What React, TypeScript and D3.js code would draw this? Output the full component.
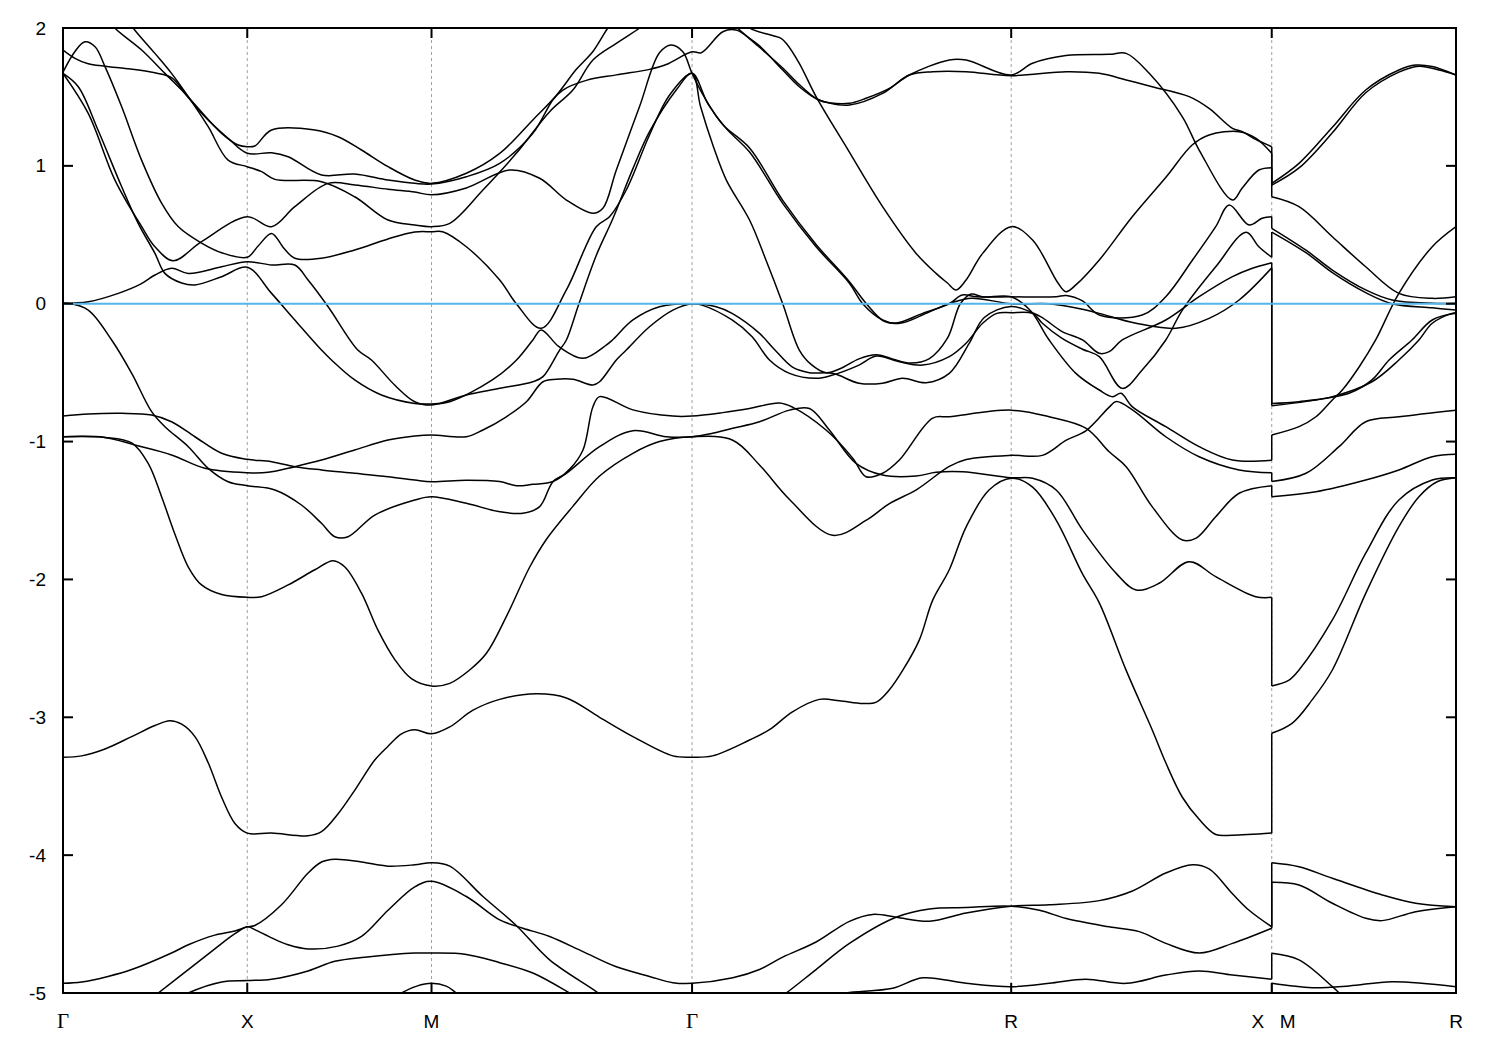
import React from "react";
import * as d3 from "d3";

type Pt = [number, number];

// high-symmetry positions along the k-path (units of Γ–X length)
const symmetryK = [0, 1, 2, 3.414, 5.146, 6.56, 7.56];
const symmetryLabels = ["Γ", "X", "M", "Γ", "R", "X", "R"];
const breakLabel = "M";
const energyTicks = [2, 1, 0, -1, -2, -3, -4, -5];
const kMax = 7.56;
const eMin = -5;
const eMax = 2;
const fermiLevel = 0;

// ---- bands on Γ–X–M–Γ–R–X ----
const bandB1: Pt[] = [[0,-4.93],[0.101,-4.92],[0.244,-4.88],[0.373,-4.83],[0.589,-4.71],[0.68,-4.65],[0.824,-4.58],[0.933,-4.55],[1.0,-4.52],[1.041,-4.51],[1.186,-4.36],[1.33,-4.13],[1.403,-4.05],[1.475,-4.03],[1.62,-4.05],[1.764,-4.08],[1.909,-4.07],[2.0,-4.055],[2.099,-4.08],[2.279,-4.3],[2.46,-4.51],[2.641,-4.76],[2.894,-4.99],[2.94,-5.04]];
const bandB2: Pt[] = [[0.47,-5.05],[0.517,-5.0],[0.68,-4.83],[0.824,-4.68],[0.933,-4.57],[1.0,-4.52],[1.041,-4.54],[1.132,-4.6],[1.222,-4.65],[1.33,-4.68],[1.493,-4.66],[1.62,-4.59],[1.764,-4.4],[1.909,-4.23],[2.0,-4.19],[2.189,-4.3],[2.37,-4.47],[2.496,-4.53],[2.641,-4.59],[2.822,-4.7],[3.003,-4.81],[3.183,-4.88],[3.31,-4.925],[3.414,-4.93],[3.635,-4.89],[3.78,-4.83],[3.906,-4.74],[4.087,-4.63],[4.268,-4.48],[4.394,-4.43],[4.521,-4.45],[4.702,-4.48],[4.901,-4.42],[5.146,-4.37],[5.352,-4.36],[5.624,-4.33],[5.804,-4.26],[5.985,-4.13],[6.13,-4.07],[6.22,-4.1],[6.347,-4.28],[6.437,-4.4],[6.56,-4.52]];
const bandB3: Pt[] = [[0.64,-5.03],[0.68,-5.0],[0.861,-4.92],[1.0,-4.91],[1.132,-4.9],[1.33,-4.84],[1.475,-4.77],[1.638,-4.74],[1.909,-4.71],[2.0,-4.71],[2.189,-4.72],[2.37,-4.78],[2.55,-4.855],[2.75,-5.0],[2.79,-5.03]];
const bandB4: Pt[] = [[1.8,-5.03],[1.837,-5.0],[1.92,-4.95],[2.0,-4.93],[2.08,-4.95],[2.135,-5.0],[2.17,-5.03]];
const bandB5: Pt[] = [[3.89,-5.03],[3.925,-5.0],[4.087,-4.83],[4.268,-4.64],[4.521,-4.45],[4.702,-4.39],[4.901,-4.38],[5.146,-4.37],[5.3,-4.4],[5.445,-4.46],[5.678,-4.52],[5.841,-4.555],[5.985,-4.64],[6.166,-4.71],[6.347,-4.64],[6.56,-4.53]];
const bandB6: Pt[] = [[4.15,-5.03],[4.25,-5.0],[4.503,-4.966],[4.665,-4.89],[4.901,-4.93],[5.146,-4.954],[5.352,-4.93],[5.55,-4.9],[5.77,-4.93],[5.985,-4.87],[6.166,-4.84],[6.347,-4.87],[6.56,-4.9]];
const bandB7: Pt[] = [[0,-3.29],[0.101,-3.28],[0.228,-3.23],[0.373,-3.14],[0.499,-3.06],[0.58,-3.025],[0.644,-3.05],[0.716,-3.14],[0.788,-3.33],[0.861,-3.58],[0.933,-3.77],[1.0,-3.84],[1.132,-3.84],[1.33,-3.86],[1.403,-3.83],[1.493,-3.7],[1.583,-3.53],[1.692,-3.31],[1.764,-3.21],[1.837,-3.12],[1.909,-3.09],[2.0,-3.12],[2.099,-3.07],[2.223,-2.95],[2.37,-2.87],[2.569,-2.83],[2.732,-2.86],[2.912,-3.0],[3.093,-3.14],[3.31,-3.28],[3.414,-3.29],[3.525,-3.28],[3.726,-3.165],[3.834,-3.09],[3.959,-2.96],[4.105,-2.87],[4.214,-2.88],[4.34,-2.9],[4.414,-2.89],[4.485,-2.8],[4.557,-2.66],[4.647,-2.44],[4.72,-2.15],[4.81,-1.93],[4.901,-1.62],[5.027,-1.35],[5.146,-1.266],[5.262,-1.33],[5.39,-1.57],[5.533,-1.96],[5.624,-2.17],[5.77,-2.66],[5.911,-3.09],[5.985,-3.33],[6.075,-3.58],[6.166,-3.74],[6.256,-3.85],[6.347,-3.855],[6.56,-3.84]];
const bandB8: Pt[] = [[0,-0.965],[0.228,-0.97],[0.373,-1.01],[0.463,-1.16],[0.535,-1.4],[0.607,-1.67],[0.68,-1.91],[0.752,-2.04],[0.861,-2.11],[1.0,-2.13],[1.078,-2.125],[1.222,-2.04],[1.367,-1.93],[1.466,-1.864],[1.53,-1.91],[1.62,-2.1],[1.71,-2.37],[1.8,-2.58],[1.891,-2.72],[2.0,-2.773],[2.099,-2.754],[2.207,-2.657],[2.298,-2.536],[2.406,-2.27],[2.533,-1.91],[2.623,-1.71],[2.767,-1.47],[2.912,-1.25],[3.093,-1.085],[3.237,-1.0],[3.414,-0.965],[3.635,-0.99],[3.78,-1.17],[3.943,-1.42],[4.177,-1.68],[4.36,-1.57],[4.485,-1.45],[4.631,-1.35],[4.81,-1.18],[4.902,-1.13],[5.146,-1.1],[5.315,-1.1],[5.445,-0.99],[5.553,-0.92],[5.678,-0.75],[5.716,-0.71],[5.804,-0.77],[5.985,-0.965],[6.166,-1.11],[6.383,-1.206],[6.56,-1.226]];
const bandB9: Pt[] = [[0,-0.815],[0.137,-0.8],[0.318,-0.795],[0.481,-0.807],[0.589,-0.856],[0.716,-0.965],[0.861,-1.085],[1.0,-1.129],[1.132,-1.146],[1.258,-1.182],[1.403,-1.206],[1.583,-1.23],[1.764,-1.255],[1.909,-1.279],[2.0,-1.291],[2.189,-1.28],[2.37,-1.29],[2.46,-1.32],[2.55,-1.31],[2.659,-1.29],[2.75,-1.2],[2.822,-1.061],[2.876,-0.748],[2.912,-0.674],[3.093,-0.77],[3.31,-0.815],[3.414,-0.815],[3.58,-0.79],[3.726,-0.76],[3.888,-0.72],[3.959,-0.75],[4.141,-0.916],[4.286,-1.12],[4.358,-1.255],[4.448,-1.23],[4.539,-1.134],[4.72,-0.83],[4.81,-0.82],[5.146,-0.772],[5.352,-0.82],[5.553,-0.904],[5.678,-1.074],[5.77,-1.182],[5.911,-1.472],[6.075,-1.714],[6.15,-1.7],[6.256,-1.545],[6.383,-1.375],[6.56,-1.32]];
const bandB10: Pt[] = [[0,-0.965],[0.228,-0.97],[0.39,-1.025],[0.589,-1.097],[0.77,-1.194],[1.0,-1.226],[1.113,-1.223],[1.258,-1.182],[1.403,-1.134],[1.583,-1.061],[1.764,-0.989],[1.909,-0.96],[2.0,-0.952],[2.189,-0.965],[2.279,-0.916],[2.406,-0.82],[2.515,-0.711],[2.605,-0.566],[2.677,-0.548],[2.767,-0.548],[2.876,-0.59],[2.912,-0.566],[3.003,-0.408],[3.057,-0.336],[3.183,-0.167],[3.31,-0.046],[3.414,0.0],[3.468,-0.01],[3.631,-0.118],[3.74,-0.239],[3.834,-0.408],[3.943,-0.505],[4.087,-0.541],[4.177,-0.517],[4.32,-0.445],[4.414,-0.38],[4.539,-0.421],[4.665,-0.445],[4.81,-0.384],[4.901,-0.287],[4.991,-0.142],[5.068,-0.07],[5.146,-0.065],[5.262,-0.07],[5.315,-0.142],[5.42,-0.25],[5.533,-0.33],[5.624,-0.384],[5.749,-0.614],[5.857,-0.481],[5.985,-0.263],[6.075,-0.046],[6.256,0.268],[6.421,0.518],[6.49,0.413],[6.56,0.337]];
const bandB12: Pt[] = [[0,0.003],[0.029,0.003],[0.137,-0.046],[0.264,-0.263],[0.373,-0.505],[0.481,-0.783],[0.553,-0.892],[0.68,-1.037],[0.788,-1.194],[0.896,-1.291],[1.0,-1.32],[1.15,-1.351],[1.294,-1.46],[1.403,-1.593],[1.475,-1.69],[1.547,-1.69],[1.692,-1.533],[1.909,-1.424],[2.0,-1.4],[2.189,-1.448],[2.37,-1.509],[2.496,-1.52],[2.587,-1.472],[2.659,-1.291],[2.732,-1.23],[2.912,-1.037],[3.093,-0.921],[3.274,-0.965],[3.414,-0.965],[3.525,-0.94],[3.635,-0.904],[3.78,-0.856],[3.943,-0.772],[4.051,-0.76],[4.159,-0.916],[4.304,-1.158],[4.448,-1.243],[4.63,-1.25],[4.738,-1.223],[4.882,-1.219],[5.146,-1.262],[5.262,-1.266],[5.39,-1.351],[5.533,-1.641],[5.716,-1.956],[5.824,-2.077],[5.949,-2.028],[6.112,-1.871],[6.256,-1.98],[6.473,-2.125],[6.56,-2.13]];
const bandC1: Pt[] = [[0,0.003],[0.137,0.014],[0.3,0.075],[0.418,0.14],[0.499,0.208],[0.589,0.257],[0.68,0.22],[0.861,0.268],[1.0,0.305],[1.132,0.281],[1.258,0.281],[1.33,0.172],[1.439,-0.022],[1.6,-0.336],[1.674,-0.408],[1.8,-0.59],[1.909,-0.711],[2.0,-0.735],[2.189,-0.662],[2.37,-0.614],[2.55,-0.566],[2.605,-0.529],[2.695,-0.336],[2.732,-0.263],[2.8,0.0],[2.894,0.35],[2.985,0.62],[3.093,0.98],[3.184,1.25],[3.328,1.55],[3.414,1.671],[3.5,1.45],[3.6,1.27],[3.726,1.1],[3.906,0.728],[4.087,0.413],[4.268,0.148],[4.34,0.0],[4.448,-0.118],[4.521,-0.14],[4.665,-0.07],[4.81,0.0],[4.88,0.063],[4.96,0.05],[5.146,0.05],[5.262,0.049],[5.39,0.051],[5.445,0.06],[5.533,0.02],[5.624,-0.082],[5.857,-0.082],[5.985,0.051],[6.13,0.317],[6.256,0.559],[6.329,0.716],[6.437,0.571],[6.508,0.62],[6.56,0.631]];
const bandC2: Pt[] = [[0,1.671],[0.083,1.574],[0.19,1.26],[0.318,0.85],[0.408,0.583],[0.499,0.365],[0.553,0.22],[0.644,0.15],[0.716,0.136],[0.861,0.196],[1.0,0.264],[1.132,0.075],[1.258,-0.118],[1.403,-0.336],[1.457,-0.408],[1.583,-0.553],[1.728,-0.662],[1.909,-0.723],[2.0,-0.727],[2.099,-0.711],[2.33,-0.553],[2.46,-0.41],[2.55,-0.263],[2.595,-0.19],[2.692,-0.312],[2.822,-0.396],[2.948,-0.3],[2.982,-0.263],[3.093,-0.118],[3.237,-0.022],[3.414,0.0],[3.545,-0.022],[3.631,-0.07],[3.78,-0.215],[3.86,-0.33],[3.959,-0.46],[4.05,-0.5],[4.177,-0.505],[4.32,-0.577],[4.448,-0.577],[4.557,-0.541],[4.684,-0.573],[4.81,-0.505],[4.918,-0.287],[5.0,-0.1],[5.146,-0.02],[5.3,-0.09],[5.42,-0.2],[5.533,-0.263],[5.624,-0.36],[5.678,-0.348],[5.749,-0.263],[5.985,-0.118],[6.166,0.051],[6.347,0.196],[6.455,0.257],[6.56,0.297]];
const bandC3: Pt[] = [[0,1.671],[0.137,1.381],[0.282,0.897],[0.427,0.559],[0.499,0.413],[0.598,0.312],[0.752,0.45],[1.0,0.631],[1.132,0.559],[1.258,0.704],[1.439,0.873],[1.583,0.862],[1.764,0.83],[1.909,0.81],[2.0,0.79],[2.189,0.84],[2.424,0.97],[2.587,0.91],[2.732,0.752],[2.876,0.656],[2.93,0.692],[3.003,0.97],[3.129,1.43],[3.237,1.82],[3.301,1.877],[3.364,1.828],[3.414,1.671],[3.48,1.5],[3.58,1.3],[3.726,1.13],[3.906,0.75],[4.087,0.43],[4.268,0.16],[4.36,0.0],[4.46,-0.13],[4.55,-0.14],[4.7,-0.06],[4.83,0.01],[4.93,0.04],[5.146,0.0],[5.352,0.0],[5.533,-0.04],[5.624,-0.07],[5.824,-0.142],[6.041,-0.178],[6.22,-0.106],[6.383,0.027],[6.56,0.26]];
const bandC4: Pt[] = [[0,1.68],[0.065,1.83],[0.119,1.9],[0.174,1.864],[0.228,1.72],[0.318,1.43],[0.427,1.04],[0.535,0.73],[0.625,0.56],[0.752,0.44],[0.861,0.37],[1.0,0.337],[1.06,0.42],[1.132,0.51],[1.2,0.4],[1.258,0.33],[1.403,0.33],[1.583,0.39],[1.764,0.47],[1.909,0.52],[2.0,0.522],[2.06,0.522],[2.189,0.413],[2.37,0.172],[2.46,0.0],[2.595,-0.178],[2.732,0.1],[2.894,0.559],[2.966,0.631],[3.057,0.825],[3.183,1.224],[3.292,1.514],[3.414,1.671],[3.46,1.43],[3.53,1.139],[3.6,0.897],[3.726,0.607],[3.815,0.317],[3.906,0.0],[3.996,-0.336],[4.06,-0.44],[4.141,-0.5],[4.22,-0.47],[4.32,-0.4],[4.414,-0.37],[4.5,-0.4],[4.6,-0.43],[4.7,-0.4],[4.8,-0.25],[4.87,0.0],[4.93,0.07],[4.99,0.05],[5.146,0.05],[5.25,-0.05],[5.352,-0.263],[5.497,-0.505],[5.624,-0.626],[5.696,-0.674],[5.742,-0.65],[5.804,-0.748],[5.985,-0.892],[6.166,-1.037],[6.347,-1.134],[6.56,-1.135]];
const bandU1: Pt[] = [[0,1.84],[0.065,1.78],[0.137,1.74],[0.318,1.71],[0.499,1.675],[0.589,1.64],[0.68,1.5],[0.861,1.236],[0.951,1.151],[1.0,1.139],[1.041,1.144],[1.132,1.26],[1.367,1.26],[1.493,1.211],[1.62,1.115],[1.764,0.994],[1.909,0.897],[2.0,0.873],[2.189,0.946],[2.37,1.09],[2.55,1.333],[2.677,1.51],[2.786,1.7],[2.876,1.83],[2.957,2.0],[2.99,2.05]];
const bandU2: Pt[] = [[0.26,2.05],[0.282,2.0],[0.427,1.84],[0.553,1.671],[0.644,1.55],[0.77,1.356],[0.896,1.2],[1.0,1.091],[1.132,1.095],[1.222,1.066],[1.403,0.934],[1.583,0.941],[1.764,0.897],[1.909,0.873],[2.0,0.868],[2.189,0.921],[2.37,1.018],[2.55,1.236],[2.659,1.48],[2.713,1.55],[2.84,1.62],[3.003,1.66],[3.183,1.7],[3.274,1.735],[3.414,1.828],[3.464,1.821],[3.581,1.973],[3.653,1.985],[3.726,1.925],[3.78,1.87],[3.906,1.695],[3.996,1.574],[4.1,1.478],[4.159,1.458],[4.268,1.454],[4.358,1.49],[4.485,1.562],[4.593,1.659],[4.81,1.768],[4.901,1.768],[5.146,1.659],[5.262,1.744],[5.443,1.8],[5.678,1.809],[5.77,1.816],[5.895,1.671],[6.075,1.356],[6.166,1.115],[6.347,0.752],[6.4,0.84],[6.49,0.97],[6.56,0.987]];
const bandU3: Pt[] = [[0.36,2.05],[0.381,2.0],[0.499,1.816],[0.589,1.671],[0.68,1.502],[0.788,1.284],[0.896,1.042],[1.0,0.994],[1.078,0.958],[1.15,0.902],[1.403,0.885],[1.583,0.776],[1.764,0.607],[1.909,0.571],[2.0,0.559],[2.099,0.583],[2.279,0.825],[2.46,1.091],[2.641,1.393],[2.767,1.55],[2.876,1.768],[3.003,1.889],[3.129,2.0],[3.16,2.04]];
const bandT1: Pt[] = [[3.7,2.05],[3.726,2.0],[3.85,1.945],[3.897,1.925],[3.925,1.89],[3.996,1.744],[4.087,1.502],[4.25,1.139],[4.448,0.704],[4.63,0.365],[4.738,0.22],[4.8,0.15],[4.847,0.1],[4.9,0.17],[4.991,0.365],[5.146,0.559],[5.262,0.462],[5.4,0.15],[5.443,0.087],[5.5,0.14],[5.624,0.317],[5.803,0.631],[5.988,0.921],[6.128,1.151],[6.22,1.224],[6.383,1.248],[6.475,1.2],[6.56,1.091]];
const bandT3: Pt[] = [[3.62,2.05],[3.66,2.0],[3.78,1.86],[3.906,1.71],[3.996,1.59],[4.087,1.49],[4.159,1.455],[4.268,1.441],[4.448,1.526],[4.593,1.659],[4.72,1.683],[4.901,1.683],[5.146,1.654],[5.445,1.683],[5.624,1.671],[5.77,1.623],[5.911,1.574],[6.112,1.502],[6.22,1.417],[6.347,1.272],[6.4,1.248],[6.475,1.19],[6.56,1.139]];

// ---- bands on M–R ----
const bandMR1: Pt[] = [[6.56,0.873],[6.708,1.018],[6.889,1.28],[7.07,1.55],[7.25,1.695],[7.341,1.731],[7.431,1.72],[7.56,1.659]];
const bandMR2: Pt[] = [[6.56,0.86],[6.708,0.985],[6.889,1.24],[7.07,1.53],[7.25,1.68],[7.359,1.723],[7.468,1.695],[7.56,1.659]];
const bandMR3: Pt[] = [[6.56,0.776],[6.708,0.704],[6.889,0.486],[7.07,0.268],[7.25,0.075],[7.431,0.039],[7.56,0.051]];
const bandMR4: Pt[] = [[6.56,0.547],[6.746,0.388],[6.889,0.244],[7.07,0.1],[7.213,0.027],[7.431,0.003],[7.56,0.003]];
const bandMR5: Pt[] = [[6.56,0.52],[6.746,0.37],[6.889,0.225],[7.07,0.08],[7.213,0.0],[7.431,-0.03],[7.56,-0.046]];
const bandMR6: Pt[] = [[6.56,-0.952],[6.708,-0.892],[6.8,-0.82],[6.889,-0.698],[6.943,-0.626],[7.035,-0.457],[7.124,-0.263],[7.25,0.075],[7.431,0.413],[7.56,0.559]];
const bandMR7: Pt[] = [[6.56,-0.723],[6.708,-0.711],[6.98,-0.65],[7.104,-0.553],[7.197,-0.408],[7.321,-0.263],[7.431,-0.118],[7.56,-0.07]];
const bandMR8: Pt[] = [[6.56,-0.74],[6.889,-0.674],[7.104,-0.566],[7.25,-0.408],[7.359,-0.263],[7.431,-0.142],[7.538,-0.07],[7.56,-0.065]];
const bandMR9: Pt[] = [[6.56,-1.29],[6.746,-1.23],[6.925,-1.037],[7.07,-0.856],[7.25,-0.82],[7.56,-0.772]];
const bandMR10: Pt[] = [[6.56,-1.4],[6.8,-1.364],[7.07,-1.279],[7.25,-1.206],[7.431,-1.11],[7.56,-1.092]];
const bandMR11: Pt[] = [[6.56,-2.773],[6.654,-2.73],[6.708,-2.657],[6.889,-2.294],[7.07,-1.81],[7.25,-1.424],[7.431,-1.279],[7.56,-1.262]];
const bandMR12: Pt[] = [[6.56,-3.116],[6.67,-3.044],[6.779,-2.874],[6.889,-2.657],[7.07,-2.101],[7.25,-1.617],[7.359,-1.4],[7.46,-1.29],[7.56,-1.262]];
const bandMR13: Pt[] = [[6.56,-4.055],[6.708,-4.084],[6.889,-4.168],[7.16,-4.289],[7.341,-4.349],[7.56,-4.374]];
const bandMR14: Pt[] = [[6.56,-4.197],[6.708,-4.217],[6.889,-4.349],[7.07,-4.458],[7.16,-4.475],[7.341,-4.41],[7.56,-4.374]];
const bandMR15: Pt[] = [[6.56,-4.712],[6.708,-4.76],[6.889,-4.954],[6.925,-4.998],[6.95,-5.03]];
const bandMR16: Pt[] = [[6.56,-4.93],[6.779,-4.962],[6.98,-4.949],[7.213,-4.918],[7.56,-4.954]];

const leftBands: Pt[][] = [bandB1, bandB2, bandB3, bandB4, bandB5, bandB6, bandB7, bandB8, bandB9, bandB10, bandB12, bandC1, bandC2, bandC3, bandC4, bandU1, bandU2, bandU3, bandT1, bandT3];
const rightBands: Pt[][] = [bandMR1, bandMR2, bandMR3, bandMR4, bandMR5, bandMR6, bandMR7, bandMR8, bandMR9, bandMR10, bandMR11, bandMR12, bandMR13, bandMR14, bandMR15, bandMR16];

const breakK = 6.56;

export default function App() {
  const W = 1500;
  const H = 1050;
  const x = d3.scaleLinear().domain([0, kMax]).range([63, 1456]);
  const y = d3.scaleLinear().domain([eMin, eMax]).range([993, 28]);
  const line = d3
    .line<Pt>()
    .x((d) => x(d[0]))
    .y((d) => y(d[1]))
    .curve(d3.curveCatmullRom.alpha(0.5));

  // vertical jumps at the X|M discontinuity: pair band ends by energy rank
  const leftEnds = leftBands
    .filter((b) => Math.abs(b[b.length - 1][0] - breakK) < 1e-6)
    .map((b) => b[b.length - 1][1])
    .sort((a, b) => b - a);
  const rightStarts = rightBands
    .filter((b) => Math.abs(b[0][0] - breakK) < 1e-6)
    .map((b) => b[0][1])
    .sort((a, b) => b - a);
  const jumps: [number, number][] = rightStarts.map((r, i) => [
    i < leftEnds.length ? leftEnds[i] : eMin - 0.2,
    r,
  ]);

  const [x0, x1] = x.range();
  const [yb, yt] = y.range();
  const sans = "'Liberation Sans', Arial, Helvetica, sans-serif";
  const serif = "'Liberation Serif', 'DejaVu Serif', serif";

  return (
    <svg
      width={W}
      height={H}
      viewBox={`0 0 ${W} ${H}`}
      style={{ position: "absolute", left: 0, top: 0, background: "#fff" }}
    >
      <defs>
        <clipPath id="plotClip">
          <rect x={x0} y={yt} width={x1 - x0} height={yb - yt} />
        </clipPath>
      </defs>
      <rect x={0} y={0} width={W} height={H} fill="#fff" />
      {symmetryK.slice(1, -1).map((k, i) => (
        <line
          key={"g" + i}
          x1={x(k)}
          x2={x(k)}
          y1={yt}
          y2={yb}
          stroke="#a0a0a0"
          strokeWidth={1}
          strokeDasharray="3,3"
        />
      ))}
      <g clipPath="url(#plotClip)">
        {[...leftBands, ...rightBands].map((b, i) => (
          <path key={"b" + i} d={line(b) || ""} fill="none" stroke="#000" strokeWidth={1.5} />
        ))}
        {jumps.map(([a, b], i) => (
          <line
            key={"j" + i}
            x1={x(breakK)}
            x2={x(breakK)}
            y1={y(a)}
            y2={y(b)}
            stroke="#000"
            strokeWidth={1.5}
          />
        ))}
        <line
          x1={x0}
          x2={x1}
          y1={y(fermiLevel)}
          y2={y(fermiLevel)}
          stroke="#56b4e9"
          strokeWidth={2}
        />
      </g>
      {energyTicks.map((e) => (
        <g key={"yt" + e}>
          <line x1={x0} x2={x0 + 10} y1={y(e)} y2={y(e)} stroke="#000" strokeWidth={2} />
          <line x1={x1 - 10} x2={x1} y1={y(e)} y2={y(e)} stroke="#000" strokeWidth={2} />
          <text
            x={46}
            y={y(e)}
            textAnchor="end"
            dominantBaseline="central"
            fontFamily={sans}
            fontSize={19}
          >
            {e}
          </text>
        </g>
      ))}
      {symmetryK.map((k, i) => (
        <g key={"xt" + i}>
          <line x1={x(k)} x2={x(k)} y1={yb} y2={yb - 10} stroke="#000" strokeWidth={2} />
          <line x1={x(k)} x2={x(k)} y1={yt} y2={yt + 10} stroke="#000" strokeWidth={2} />
        </g>
      ))}
      {symmetryLabels.map((lab, i) => {
        const k = symmetryK[i];
        const isBreak = Math.abs(k - breakK) < 1e-6;
        return (
          <text
            key={"xl" + i}
            x={x(k) + (isBreak ? -14 : 0)}
            y={1021}
            textAnchor="middle"
            dominantBaseline="central"
            fontFamily={lab === "Γ" ? serif : sans}
            fontSize={lab === "Γ" ? 21 : 19}
          >
            {lab}
          </text>
        );
      })}
      <text
        x={x(breakK) + 16}
        y={1021}
        textAnchor="middle"
        dominantBaseline="central"
        fontFamily={sans}
        fontSize={19}
      >
        {breakLabel}
      </text>
      <rect
        x={x0}
        y={yt}
        width={x1 - x0}
        height={yb - yt}
        fill="none"
        stroke="#000"
        strokeWidth={2}
      />
    </svg>
  );
}
